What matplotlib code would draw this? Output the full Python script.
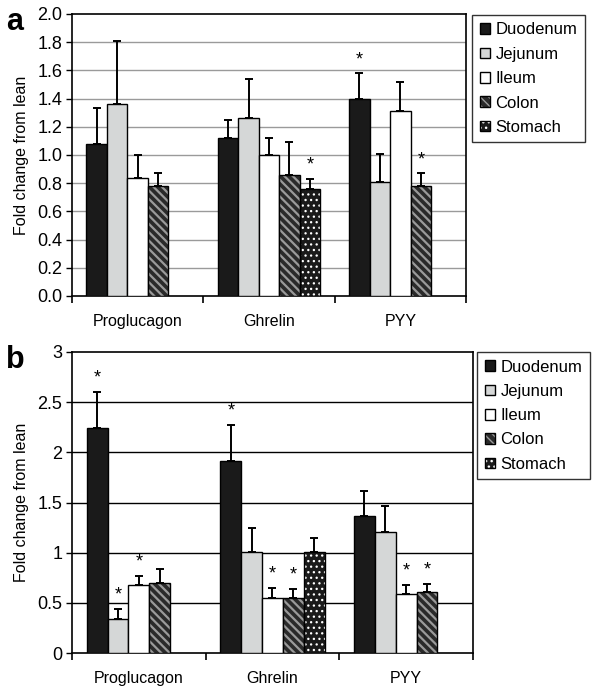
import numpy as np
import matplotlib
matplotlib.use("Agg")
import matplotlib.pyplot as plt
from matplotlib.patches import Patch

plt.rcParams['font.family'] = ['Liberation Sans', 'DejaVu Sans']

genes = ['Proglucagon', 'Ghrelin', 'PYY']
tissues = ['Duodenum', 'Jejunum', 'Ileum', 'Colon', 'Stomach']
nan = np.nan

# panel a: mean fold change and top of error bar, rows = tissues, cols = genes
a_mean = [[1.08, 1.12, 1.40],
          [1.36, 1.26, 0.81],
          [0.84, 1.00, 1.31],
          [0.78, 0.86, 0.78],
          [nan, 0.76, nan]]
a_top = [[1.33, 1.25, 1.58],
         [1.81, 1.54, 1.01],
         [1.00, 1.12, 1.52],
         [0.87, 1.09, 0.87],
         [nan, 0.83, nan]]
a_sig = [[0, 0, 1],
         [0, 0, 0],
         [0, 0, 0],
         [0, 0, 1],
         [0, 1, 0]]

# panel b
b_mean = [[2.24, 1.91, 1.37],
          [0.34, 1.01, 1.21],
          [0.675, 0.545, 0.59],
          [0.695, 0.545, 0.605],
          [nan, 1.01, nan]]
b_top = [[2.60, 2.27, 1.61],
         [0.44, 1.25, 1.47],
         [0.77, 0.65, 0.675],
         [0.84, 0.64, 0.69],
         [nan, 1.15, nan]]
b_sig = [[1, 1, 0],
         [1, 0, 0],
         [1, 1, 1],
         [0, 1, 1],
         [0, 0, 0]]

faces = ['#1a1a1a', '#d5d7d7', 'white', '#2a2a2a', '#1a1a1a']
hatches = [None, None, None, '\\\\\\\\', '...']
hatch_cols = [None, None, None, '#9a9a9a', 'white']
hatch_lw = [1.0, 1.0, 1.0, 1.6, 0.9]

fig = plt.figure(figsize=(6.04, 6.94), dpi=100)
W = 604.0
H = 694.0


def panel(rect, mean, top, sig, ymax, step, fmt, gridcol, letter, leg_xy):
    ax = fig.add_axes(rect)
    x = np.arange(len(genes))
    w = 0.156
    handles = []
    for j in range(len(tissues)):
        xs = x + (j - 2) * w
        m = np.array(mean[j], dtype=float)
        t = np.array(top[j], dtype=float)
        if hatches[j]:
            with plt.rc_context({'hatch.linewidth': hatch_lw[j]}):
                ax.bar(xs, m, w, color=faces[j], edgecolor=hatch_cols[j],
                       hatch=hatches[j], linewidth=0, zorder=3)
                h = (Patch(facecolor=faces[j], edgecolor=hatch_cols[j],
                           hatch=hatches[j], linewidth=0),
                     Patch(facecolor='none', edgecolor='black', linewidth=1.0))
            ax.bar(xs, m, w, facecolor='none', edgecolor='black',
                   linewidth=1.0, zorder=4)
        else:
            ax.bar(xs, m, w, color=faces[j], edgecolor='black',
                   linewidth=1.0, zorder=3)
            h = Patch(facecolor=faces[j], edgecolor='black', linewidth=1.0)
        handles.append(h)
        ok = ~np.isnan(m)
        ax.errorbar(xs[ok], m[ok], yerr=[np.zeros(ok.sum()), (t - m)[ok]],
                    fmt='none', ecolor='black', elinewidth=1.4,
                    capsize=3.2, capthick=1.4, zorder=5)
        for k in range(len(genes)):
            if sig[j][k]:
                ax.text(xs[k], t[k] + ymax * 0.018, '*', ha='center',
                        va='bottom', fontsize=13, zorder=6)

    ax.set_xlim(-0.5, len(genes) - 0.5)
    ax.set_ylim(0, ymax)
    ticks = np.arange(0, ymax + step / 2, step)
    ax.set_yticks(ticks)
    ax.set_yticklabels([fmt(v) for v in ticks], fontsize=13)
    for v in ticks[1:-1]:
        ax.axhline(v, color=gridcol, linewidth=1.0, zorder=1)
    ax.set_xticks(np.arange(len(genes) + 1) - 0.5)
    ax.set_xticklabels([])
    ax.set_xticks(x, minor=True)
    ax.set_xticklabels(genes, minor=True, fontsize=11.5)
    ax.tick_params(axis='x', which='minor', length=0, pad=13)
    ax.tick_params(axis='x', which='major', length=5, width=1.2)
    ax.tick_params(axis='y', length=4, width=1.0, pad=3)
    for s in ax.spines.values():
        s.set_linewidth(1.2)
    ax.set_ylabel('Fold change from lean', fontsize=11.5, labelpad=6)
    fig.text(6 / W, rect[1] + rect[3] + 7 / H, letter, fontsize=22,
             fontweight='bold', va='top', ha='left')
    leg = fig.legend(handles, tissues, loc='upper left',
                     bbox_to_anchor=(leg_xy[0] / W, 1 - leg_xy[1] / H),
                     fontsize=12, frameon=True, fancybox=False,
                     handlelength=0.6, handleheight=0.6, handletextpad=0.35,
                     labelspacing=0.56, borderpad=0.45, borderaxespad=0)
    leg.get_frame().set_edgecolor('black')
    leg.get_frame().set_linewidth(1.0)
    return ax


panel([72 / W, 1 - 296 / H, 394 / W, 282 / H], a_mean, a_top, a_sig,
      2.0, 0.2, lambda v: '%.1f' % v, '#9a9a9a', 'a', (472, 15))
panel([72 / W, 1 - 653 / H, 401 / W, 301 / H], b_mean, b_top, b_sig,
      3.0, 0.5, lambda v: '%g' % v, 'black', 'b', (477, 352))

fig.savefig('out.png', dpi=100)
